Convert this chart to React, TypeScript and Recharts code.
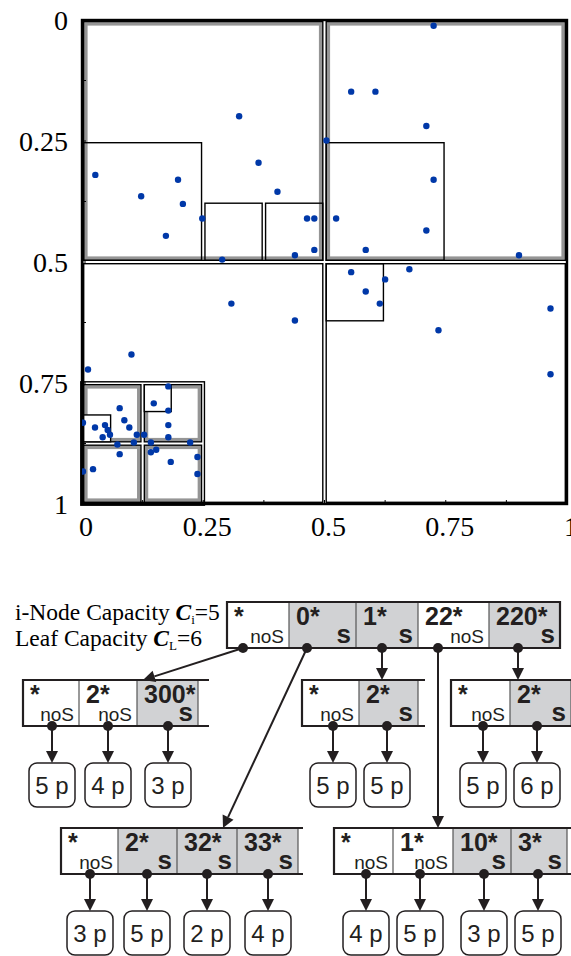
import React from 'react';
import { ScatterChart, Scatter, XAxis, YAxis, ReferenceArea } from 'recharts';

const majorTicks = [0, 0.25, 0.5, 0.75, 1];
const minorTicks = [0, 0.125, 0.25, 0.375, 0.5, 0.625, 0.75, 0.875, 1];

// points (x to the right, y downwards)
const points = [
  { x: 0.324, y: 0.199 }, { x: 0.0275, y: 0.32 }, { x: 0.198, y: 0.33 }, { x: 0.122, y: 0.364 },
  { x: 0.208, y: 0.38 }, { x: 0.364, y: 0.295 }, { x: 0.403, y: 0.355 }, { x: 0.248, y: 0.41 },
  { x: 0.173, y: 0.446 }, { x: 0.464, y: 0.41 }, { x: 0.479, y: 0.41 }, { x: 0.479, y: 0.475 },
  { x: 0.439, y: 0.486 }, { x: 0.289, y: 0.495 },
  { x: 0.725, y: 0.012 }, { x: 0.555, y: 0.148 }, { x: 0.605, y: 0.148 }, { x: 0.71, y: 0.219 },
  { x: 0.504, y: 0.249 }, { x: 0.725, y: 0.33 }, { x: 0.524, y: 0.41 }, { x: 0.71, y: 0.435 },
  { x: 0.585, y: 0.475 }, { x: 0.901, y: 0.486 },
  { x: 0.555, y: 0.521 }, { x: 0.625, y: 0.536 }, { x: 0.675, y: 0.515 }, { x: 0.585, y: 0.561 },
  { x: 0.614, y: 0.586 }, { x: 0.735, y: 0.641 }, { x: 0.966, y: 0.596 }, { x: 0.966, y: 0.732 },
  { x: 0.308, y: 0.586 }, { x: 0.439, y: 0.621 }, { x: 0.102, y: 0.691 }, { x: 0.0124, y: 0.722 },
  { x: 0.178, y: 0.757 }, { x: 0.0777, y: 0.802 }, { x: 0.148, y: 0.792 }, { x: 0.178, y: 0.807 },
  { x: 0.002, y: 0.832 }, { x: 0.0268, y: 0.842 }, { x: 0.0474, y: 0.837 }, { x: 0.053, y: 0.847 },
  { x: 0.0577, y: 0.857 }, { x: 0.0873, y: 0.827 }, { x: 0.0976, y: 0.842 }, { x: 0.0426, y: 0.862 },
  { x: 0.113, y: 0.857 }, { x: 0.128, y: 0.857 }, { x: 0.178, y: 0.837 }, { x: 0.178, y: 0.862 },
  { x: 0.107, y: 0.873 }, { x: 0.073, y: 0.877 }, { x: 0.142, y: 0.873 }, { x: 0.223, y: 0.873 },
  { x: 0.142, y: 0.893 }, { x: 0.153, y: 0.888 }, { x: 0.0777, y: 0.897 }, { x: 0.183, y: 0.913 },
  { x: 0.238, y: 0.903 }, { x: 0.0227, y: 0.928 }, { x: 0.002, y: 0.933 }, { x: 0.238, y: 0.938 },
];

// quadtree cells
const cells = [
  { x1: 0, x2: 1, y1: 0, y2: 1, kind: 'frame' },
  { x1: 0, x2: 0.5, y1: 0, y2: 0.5, kind: 'gray' },
  { x1: 0.5, x2: 1, y1: 0, y2: 0.5, kind: 'gray' },
  { x1: 0, x2: 0.5, y1: 0.5, y2: 1, kind: 'plain' },
  { x1: 0.5, x2: 1, y1: 0.5, y2: 1, kind: 'plain' },
  { x1: 0, x2: 0.25, y1: 0.25, y2: 0.5, kind: 'plain' },
  { x1: 0.25, x2: 0.375, y1: 0.375, y2: 0.5, kind: 'plain' },
  { x1: 0.375, x2: 0.5, y1: 0.375, y2: 0.5, kind: 'plain' },
  { x1: 0.5, x2: 0.75, y1: 0.25, y2: 0.5, kind: 'plain' },
  { x1: 0.5, x2: 0.625, y1: 0.5, y2: 0.625, kind: 'plain' },
  { x1: 0, x2: 0.25, y1: 0.75, y2: 1, kind: 'group' },
  { x1: 0, x2: 0.125, y1: 0.75, y2: 0.875, kind: 'gray' },
  { x1: 0.125, x2: 0.25, y1: 0.75, y2: 0.875, kind: 'gray' },
  { x1: 0, x2: 0.125, y1: 0.875, y2: 1, kind: 'gray' },
  { x1: 0.125, x2: 0.25, y1: 0.875, y2: 1, kind: 'gray' },
  { x1: 0, x2: 0.0625, y1: 0.8125, y2: 0.875, kind: 'notch' },
  { x1: 0.125, x2: 0.1875, y1: 0.75, y2: 0.8125, kind: 'notch' },
];

// tree nodes: [prefix, tag]
const rootEntries = [['*', 'noS'], ['0*', 's'], ['1*', 's'], ['22*', 'noS'], ['220*', 's']];
const nodeA = [['*', 'noS'], ['2*', 'noS'], ['300*', 's']];
const nodeB = [['*', 'noS'], ['2*', 's']];
const nodeC = [['*', 'noS'], ['2*', 's']];
const nodeD = [['*', 'noS'], ['2*', 's'], ['32*', 's'], ['33*', 's']];
const nodeE = [['*', 'noS'], ['1*', 'noS'], ['10*', 's'], ['3*', 's']];

// points per leaf
const leafA = [5, 4, 3];
const leafB = [5, 5];
const leafC = [5, 6];
const leafD = [3, 5, 2, 4];
const leafE = [4, 5, 3, 5];

const SANS = "'Liberation Sans', Arial, sans-serif";
const SERIF = "'Liberation Serif', 'Times New Roman', serif";
const INK = '#231f20';
const SHADE = '#d1d2d4';
const NODE_H = 46;
const LEAF_W = 46;
const LEAF_H = 44;

// layout of the diagram
const L = {
  root: { edges: [227, 289, 356, 418, 489, 560], top: 602, tail: 560, closed: true, dots: [243, 307, 382, 438, 518] },
  A: { edges: [23, 79, 137, 198], top: 680, tail: 209, dots: [52, 108, 168], leafTop: 763 },
  B: { edges: [302, 359, 418], top: 680, tail: 425, dots: [333, 387], leafTop: 763 },
  C: { edges: [451, 510, 571], top: 680, tail: 590, dots: [483, 537], leafTop: 763 },
  D: { edges: [61, 118, 177, 237, 298], top: 828, tail: 303, dots: [90, 147, 207, 268], leafTop: 911 },
  E: { edges: [334, 393, 453, 511, 567], top: 828, tail: 590, dots: [366, 420, 484, 538], leafTop: 911 },
};
const rootTips = [[143, 680], [223, 828], [382, 680], [438, 828], [518, 680]];

function CellShape(props: any) {
  const { x, y, width, height, kind } = props;
  if (x == null || y == null) return null;
  if (kind === 'frame') {
    return <rect x={x} y={y} width={width} height={height} fill="none" stroke="#000" strokeWidth={2.4} />;
  }
  const inset = kind === 'group' ? -1.2 : 1.7;
  return (
    <g>
      {kind === 'gray' && (
        <rect x={x + 4} y={y + 4} width={width - 8} height={height - 8} fill="none" stroke="#959595" strokeWidth={3.2} />
      )}
      <rect
        x={x + inset}
        y={y + inset}
        width={width - 2 * inset}
        height={height - 2 * inset}
        fill={kind === 'notch' ? '#fff' : 'none'}
        stroke="#000"
        strokeWidth={1.4}
      />
    </g>
  );
}

function TreeNode({ entries, lay }: any) {
  const { edges, top, tail, closed } = lay;
  const bottom = top + NODE_H;
  return (
    <g>
      {entries.map(([key, tag]: string[], i: number) => {
        const x0 = edges[i];
        const x1 = edges[i + 1];
        const shaded = tag === 's';
        return (
          <g key={i}>
            <rect x={x0} y={top} width={x1 - x0} height={NODE_H} fill={shaded ? SHADE : '#fff'} />
            <text x={x0 + 7} y={top + 23} fontFamily={SANS} fontWeight={700} fontSize={25} fill={INK}>{key}</text>
            <text x={x1 - 5} y={bottom - 5} textAnchor="end" fontFamily={SANS} fontWeight={shaded ? 700 : 400} fontSize={shaded ? 26 : 19} fill={INK}>{tag}</text>
          </g>
        );
      })}
      {edges.slice(1).map((ex: number, i: number) => (
        <line key={'d' + i} x1={ex} x2={ex} y1={top} y2={bottom} stroke="#555" strokeWidth={1.2} />
      ))}
      <line x1={edges[0]} x2={tail} y1={top} y2={top} stroke={INK} strokeWidth={2.2} />
      <line x1={edges[0]} x2={tail} y1={bottom} y2={bottom} stroke={INK} strokeWidth={2.2} />
      <line x1={edges[0]} x2={edges[0]} y1={top - 1} y2={bottom + 1} stroke={INK} strokeWidth={2.2} />
      {closed && <line x1={tail} x2={tail} y1={top - 1} y2={bottom + 1} stroke={INK} strokeWidth={2.2} />}
    </g>
  );
}

function Arrow({ x1, y1, x2, y2 }: any) {
  const dx = x2 - x1;
  const dy = y2 - y1;
  const len = Math.hypot(dx, dy);
  const ux = dx / len;
  const uy = dy / len;
  const hl = 12;
  const hw = 6;
  const bx = x2 - ux * hl;
  const by = y2 - uy * hl;
  return (
    <g>
      <line x1={x1} y1={y1} x2={bx} y2={by} stroke={INK} strokeWidth={2} />
      <polygon points={`${x2},${y2} ${bx - uy * hw},${by + ux * hw} ${bx + uy * hw},${by - ux * hw}`} fill={INK} />
      <circle cx={x1} cy={y1} r={5} fill={INK} />
    </g>
  );
}

function Leaves({ counts, lay }: any) {
  const bottom = lay.top + NODE_H;
  return (
    <g>
      {counts.map((n: number, i: number) => {
        const cx = lay.dots[i];
        return (
          <g key={i}>
            <rect x={cx - LEAF_W / 2} y={lay.leafTop} width={LEAF_W} height={LEAF_H} rx={8} fill="#fff" stroke={INK} strokeWidth={1.5} />
            <text x={cx} y={lay.leafTop + 31} textAnchor="middle" fontFamily={SANS} fontSize={24} fill={INK}>{`${n} p`}</text>
            <Arrow x1={cx} y1={bottom} x2={cx} y2={lay.leafTop} />
          </g>
        );
      })}
    </g>
  );
}

function Diagram() {
  const rootBottom = L.root.top + NODE_H;
  return (
    <svg width={571} height={956} style={{ position: 'absolute', left: 0, top: 0, pointerEvents: 'none' }}>
      <text x={15} y={620} fontFamily={SERIF} fontSize={23.5} fill="#000">
        {'i-Node Capacity '}
        <tspan fontWeight={700} fontStyle="italic">C</tspan>
        <tspan fontSize={13} dy={4}>i</tspan>
        <tspan dy={-4}>=5</tspan>
      </text>
      <text x={15} y={646} fontFamily={SERIF} fontSize={23.5} fill="#000">
        {'Leaf Capacity '}
        <tspan fontWeight={700} fontStyle="italic">C</tspan>
        <tspan fontSize={13} dy={4}>L</tspan>
        <tspan dy={-4}>=6</tspan>
      </text>
      <TreeNode entries={rootEntries} lay={L.root} />
      <TreeNode entries={nodeA} lay={L.A} />
      <TreeNode entries={nodeB} lay={L.B} />
      <TreeNode entries={nodeC} lay={L.C} />
      <TreeNode entries={nodeD} lay={L.D} />
      <TreeNode entries={nodeE} lay={L.E} />
      <Leaves counts={leafA} lay={L.A} />
      <Leaves counts={leafB} lay={L.B} />
      <Leaves counts={leafC} lay={L.C} />
      <Leaves counts={leafD} lay={L.D} />
      <Leaves counts={leafE} lay={L.E} />
      {rootTips.map(([tx, ty], i) => (
        <Arrow key={i} x1={L.root.dots[i]} y1={rootBottom} x2={tx} y2={ty} />
      ))}
    </svg>
  );
}

const tickFmt = (v: number) => (majorTicks.includes(v) ? String(v) : '');
const tickStyle = { fontFamily: SERIF, fontSize: 28, fill: '#000' };

export default function App() {
  return (
    <div style={{ position: 'absolute', left: 0, top: 0, width: 571, height: 956, background: '#fff' }}>
      <ScatterChart width={571} height={545} margin={{ top: 20, right: 4, bottom: 0, left: 0 }}>
        <XAxis
          dataKey="x"
          type="number"
          domain={[0, 1]}
          allowDataOverflow
          ticks={minorTicks}
          interval={0}
          tickFormatter={tickFmt}
          height={41}
          tickSize={-4}
          tickMargin={16}
          axisLine={false}
          tickLine={{ stroke: '#000' }}
          tick={{ ...tickStyle, dx: 4 }}
        />
        <YAxis
          dataKey="y"
          type="number"
          domain={[0, 1]}
          allowDataOverflow
          reversed
          ticks={minorTicks}
          interval={0}
          tickFormatter={tickFmt}
          width={82}
          tickSize={-4}
          tickMargin={18}
          axisLine={false}
          tickLine={{ stroke: '#000' }}
          tick={tickStyle}
        />
        <XAxis xAxisId="top" orientation="top" type="number" domain={[0, 1]} allowDataOverflow ticks={minorTicks} interval={0} height={0} tickSize={-4} tick={false} axisLine={false} tickLine={{ stroke: '#000' }} />
        <YAxis yAxisId="right" orientation="right" type="number" domain={[0, 1]} allowDataOverflow reversed ticks={minorTicks} interval={0} width={0} tickSize={-4} tick={false} axisLine={false} tickLine={{ stroke: '#000' }} />
        {cells.map((c, i) => (
          <ReferenceArea
            key={i}
            x1={c.x1}
            x2={c.x2}
            y1={c.y1}
            y2={c.y2}
            ifOverflow="visible"
            shape={(p: any) => <CellShape {...p} kind={c.kind} />}
          />
        ))}
        <Scatter
          data={points}
          isAnimationActive={false}
          shape={(p: any) => <circle cx={p.cx} cy={p.cy} r={3.2} fill="#0038a8" />}
        />
      </ScatterChart>
      <Diagram />
    </div>
  );
}
